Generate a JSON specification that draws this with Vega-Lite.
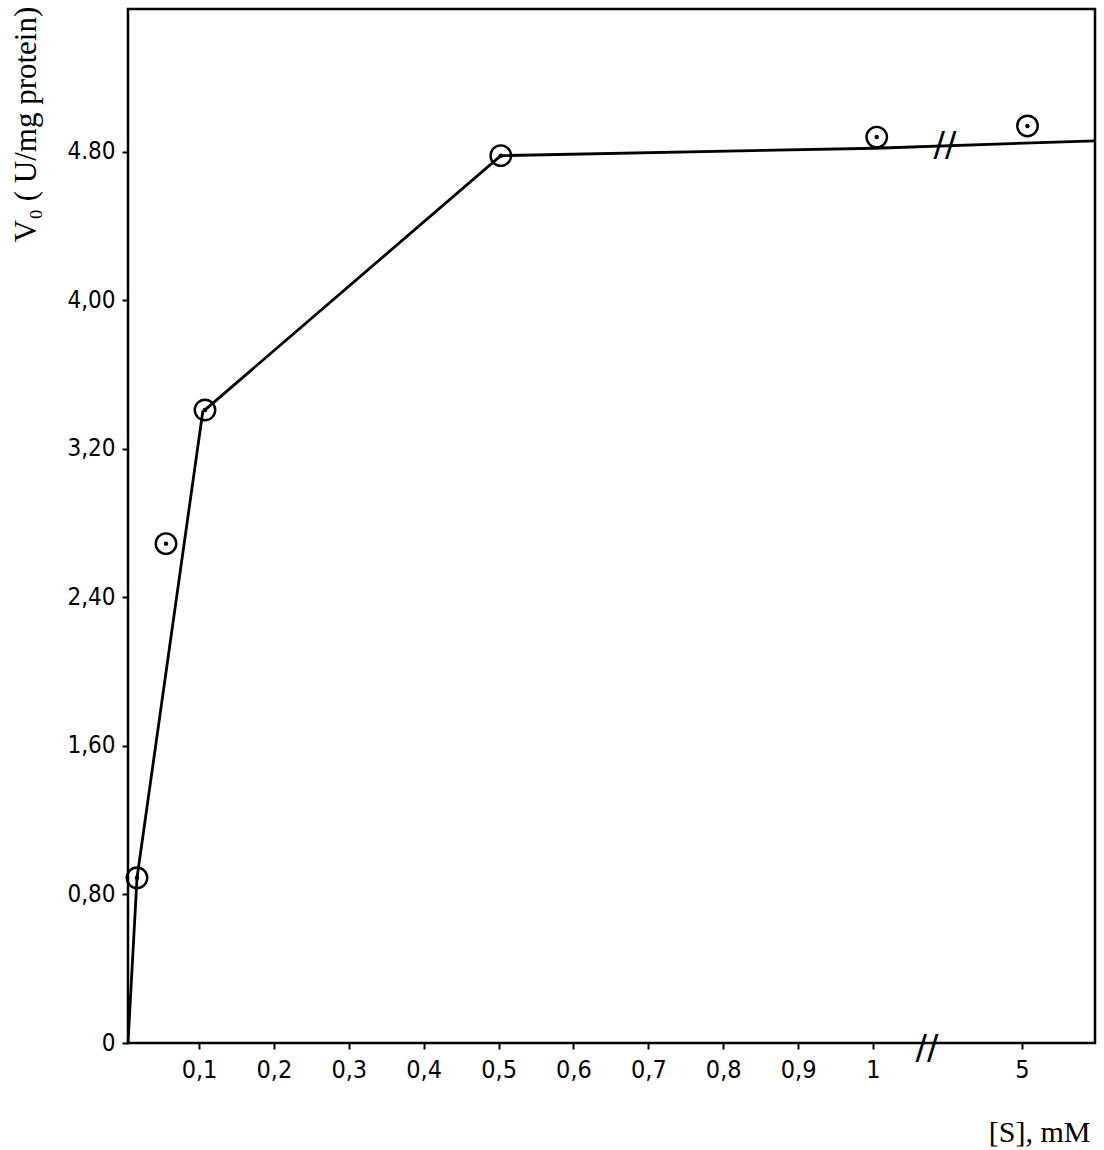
{
  "$schema": "https://vega.github.io/schema/vega-lite/v6.json",
  "width": 967,
  "height": 1034,
  "autosize": "none",
  "padding": {"left": 128, "top": 9, "right": 9, "bottom": 107},
  "background": "white",
  "config": {
    "view": {"stroke": "black", "strokeWidth": 2.5},
    "axis": {"grid": false, "domain": false, "tickColor": "black", "tickWidth": 2, "tickSize": 6, "labelColor": "black", "titleColor": "black", "labelFont": "DejaVu Sans Condensed", "titleFont": "Liberation Serif", "titleFontWeight": "normal"}
  },
  "datasets": {
    "curve": [
      {"s": 0, "v": 0},
      {"s": 0.0127, "v": 0.89},
      {"s": 0.105, "v": 3.40},
      {"s": 0.503, "v": 4.78},
      {"s": 1.05, "v": 4.82},
      {"s": 7, "v": 4.86}
    ],
    "obs": [
      {"s": 0.0127, "v": 0.89},
      {"s": 0.0535, "v": 2.69},
      {"s": 0.108, "v": 3.41},
      {"s": 0.503, "v": 4.78},
      {"s": 1.1, "v": 4.88},
      {"s": 5.15, "v": 4.94}
    ],
    "breaks": [
      {"s": 2.93, "v": 4.83, "t": "//"},
      {"s": 2.45, "v": -0.03, "t": "//"}
    ]
  },
  "layer": [
    {
      "data": {"name": "curve"},
      "mark": {"type": "line", "color": "black", "strokeWidth": 2.8},
      "encoding": {
        "x": {
          "field": "s", "type": "quantitative",
          "scale": {"domain": [0, 0.1, 1, 5, 7], "range": [0, 71, 745, 894, 967], "nice": false, "zero": false},
          "axis": {
            "values": [0.1, 0.2, 0.3, 0.4, 0.5, 0.6, 0.7, 0.8, 0.9, 1, 5],
            "labelExpr": "datum.value == 1 ? '1' : datum.value == 5 ? '5' : replace(format(datum.value, '.1f'), '.', ',')",
            "labelFontSize": 25, "labelPadding": 8,
            "title": "[S], mM", "titleFontSize": 30,
            "titleX": 962, "titleY": 98, "titleAlign": "right", "titleBaseline": "alphabetic", "titleAnchor": null
          }
        },
        "y": {
          "field": "v", "type": "quantitative",
          "scale": {"domain": [0, 5.57], "nice": false, "zero": false},
          "axis": {
            "values": [0, 0.8, 1.6, 2.4, 3.2, 4.0, 4.8],
            "labelExpr": "datum.value == 0 ? '0' : datum.value == 4.8 ? '4.80' : replace(format(datum.value, '.2f'), '.', ',')",
            "labelFontSize": 24, "labelPadding": 7,
            "title": "V₀ ( U/mg protein)", "titleFontSize": 31,
            "titleX": -102, "titleY": 115, "titleAlign": "center", "titleBaseline": "middle", "titleAngle": 270
          }
        }
      }
    },
    {
      "data": {"name": "obs"},
      "mark": {"type": "point", "shape": "circle", "filled": false, "color": "black", "strokeWidth": 2.4, "size": 420, "opacity": 1},
      "encoding": {
        "x": {"field": "s", "type": "quantitative"},
        "y": {"field": "v", "type": "quantitative"}
      }
    },
    {
      "data": {"name": "obs"},
      "mark": {"type": "point", "shape": "circle", "filled": true, "color": "black", "size": 20, "opacity": 1},
      "encoding": {
        "x": {"field": "s", "type": "quantitative"},
        "y": {"field": "v", "type": "quantitative"}
      }
    },
    {
      "data": {"name": "breaks"},
      "mark": {"type": "text", "font": "DejaVu Sans", "fontSize": 34, "color": "black", "align": "center", "baseline": "middle"},
      "encoding": {
        "x": {"field": "s", "type": "quantitative"},
        "y": {"field": "v", "type": "quantitative"},
        "text": {"field": "t"}
      }
    }
  ]
}
